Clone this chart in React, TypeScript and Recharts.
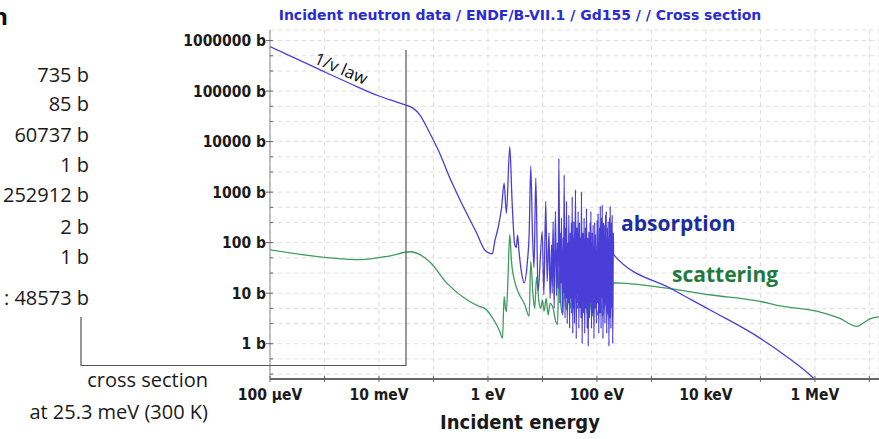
import { CartesianGrid, Line, LineChart, XAxis, YAxis } from "recharts";

// Gd155 cross sections, [energy in eV, cross section in b]
const absorptionThermal: [number, number][] = [
  [1e-4, 7.6e5], [3e-4, 4.4e5], [1e-3, 2.4e5], [3e-3, 1.4e5], [0.01, 8.0e4],
  [0.02, 6.2e4], [0.031, 5.3e4], [0.042, 4.6e4], [0.056, 3.4e4], [0.085, 1.5e4],
  [0.13, 5.9e3], [0.2, 1.9e3], [0.35, 525], [0.62, 155], [0.87, 72], [1.05, 62], [1.2, 60],
];

const absorptionResolved: [number, number][] = [
  [1.33, 105], [1.53, 195], [1.77, 480], [1.98, 1510], [2.18, 380], [2.51, 7940], [2.77, 660],
  [3.1, 91], [3.3, 80], [3.5, 140], [3.7, 70], [4.1, 27], [4.6, 16], [5.3, 43], [5.7, 145],
  [6.1, 3240], [6.56, 145], [7.0, 32], [7.55, 1900], [8.3, 11], [9.9, 165], [10.6, 9.3],
  [11.5, 660], [12.2, 17],
  [13.2, 158], [13.8, 7.9], [14.7, 91], [15.1, 10], [15.7, 263], [16.4, 5.0], [17.3, 417],
  [18.2, 8.9], [18.8, 100], [19.4, 12.6], [20.0, 4680], [20.9, 6.3], [21.6, 158], [22.0, 15.8],
  [22.3, 309], [23.2, 4.0], [24.0, 126], [24.5, 10], [25.0, 2190], [26.0, 3.2], [26.8, 200],
  [27.2, 7.9], [27.6, 661], [28.5, 2.5], [29.4, 100], [29.9, 6.3], [30.5, 355], [31.5, 2.0],
  [32.4, 158], [33.1, 7.9], [33.9, 251], [34.5, 4.0], [35.1, 813], [36.0, 1.6], [36.7, 126],
  [37.2, 5.0], [37.6, 263], [38.7, 2.5], [40.4, 1120], [41.7, 1.26], [42.9, 200], [43.7, 6.3],
  [45.2, 417], [46.6, 2.0], [47.9, 251], [49.0, 5.0], [50.1, 126], [51.0, 3.2], [52.0, 1020],
  [53.5, 1.0], [55.0, 158], [56.2, 4.0], [58.2, 309], [59.6, 1.6], [61.7, 200], [62.8, 5.0],
  [64.3, 479], [66.1, 2.0], [67.9, 126], [69.2, 0.89], [71.0, 166], [72.8, 3.2], [75.0, 251],
  [75.9, 6.3], [77.3, 417], [79.4, 2.0], [82.2, 158], [83.6, 4.0], [85.1, 224], [88.1, 1.26],
  [91.2, 251], [92.5, 5.0], [94.0, 145], [97.7, 2.5], [101, 282], [103, 6.3], [105, 380],
  [108, 1.6], [112, 200], [113, 4.0], [115, 525], [119, 2.0], [122, 316], [123, 7.9],
  [125, 562], [129, 1.26], [132, 251], [134, 5.0], [136, 224], [140, 2.5], [144, 355],
  [146, 6.3], [148, 417], [151, 1.6], [157, 200], [158, 4.0], [161, 263], [166, 0.89],
  [171, 316], [173, 3.2], [175, 525], [180, 2.0], [185, 251], [188, 5.0], [190, 355],
  [195, 1.0], [200, 158],
];

const absorptionFast: [number, number][] = [
  [202, 58], [2.5e3, 11.7], [1.17e4, 4.7], [9.8e4, 1.29], [3e5, 0.56], [9.3e5, 0.21], [3e6, 0.05],
];

const scatteringThermal: [number, number][] = [
  [1e-4, 72], [1.26e-3, 50], [4.5e-3, 46], [0.016, 55], [0.037, 66], [0.085, 42], [0.174, 16],
  [0.41, 7.4], [0.71, 5.4], [0.87, 5.0], [1.33, 2.75], [1.65, 1.74], [1.85, 1.29],
];

const scatteringResolved: [number, number][] = [
  [1.98, 8.5], [2.1, 5.0], [2.18, 4.3], [2.34, 23], [2.51, 145], [2.7, 43], [3.1, 17],
  [3.57, 10.7], [4.74, 5.9], [5.7, 3.5], [6.1, 43], [6.7, 9.3], [7.2, 5.0], [7.8, 21],
  [8.6, 6.9], [9.3, 5.0], [10, 7.4], [10.7, 4.4], [11.7, 7.9], [12.7, 3.7], [13.8, 6.3],
  [15.7, 5.0], [17.3, 2.9], [18.9, 2.4], [20, 27], [21.7, 5.9], [23.7, 3.7], [25, 12.6],
  [27.6, 4.7], [29.6, 9.3], [32.2, 5.0], [35.1, 10.7], [38.2, 6.3], [40.4, 13.5], [44, 5.0],
  [48.5, 9.3], [52, 11.7], [56.6, 4.4], [61.7, 7.9], [67, 3.7], [74, 6.9], [81.7, 3.5],
  [91.4, 6.9], [102, 3.7], [115, 7.4], [128, 3.5], [144, 6.9], [161, 3.7], [180, 7.9], [200, 16],
];

const scatteringFast: [number, number][] = [
  [1.9e3, 12.6], [1.17e4, 9.3], [9.8e4, 6.9], [2.3e5, 5.6], [1.07e6, 4.4], [2.8e6, 3.2],
  [5.9e6, 2.2], [7.8e6, 2.6], [1.02e7, 3.1], [1.5e7, 3.4],
];

const xTicks = [1e-4, 1e-3, 1e-2, 1e-1, 1, 10, 100, 1e3, 1e4, 1e5, 1e6, 1e7];
const xTickLabels = ["100 µeV", "", "10 meV", "", "1 eV", "", "100 eV", "", "10 keV", "", "1 MeV", ""];

const yMajor = [1, 10, 100, 1000, 10000, 100000, 1000000];
const yMinor = [0.25, 0.5, 2.5, 5, 25, 50, 250, 500, 2500, 5000, 25000, 50000, 250000, 500000];

// thermal values listed to the left of the plot (cut off in the original)
const thermalValues = ["735 b", "85 b", "60737 b", "1 b", "252912 b", "2 b", "1 b", ": 48573 b"];

const PLOT_LEFT = 270;
const AXIS_Y = 379;
const LEFT_ROWS = [75, 104, 135, 165, 195, 227, 257, 298];

const toPoints = (pairs: [number, number][]) => pairs.map(([e, s]) => ({ e, s }));
const absorption = toPoints([...absorptionThermal, ...absorptionResolved, ...absorptionFast]);
const scattering = toPoints([...scatteringThermal, ...scatteringResolved, ...scatteringFast]);
const yTicks = [...yMajor, ...yMinor].sort((a, b) => a - b);

const tickFont = "'DejaVu Sans Condensed', 'DejaVu Sans', sans-serif";
const noteFont = "'Open Sans', sans-serif";

function YTick(props: any) {
  const { y, payload } = props;
  const major = yMajor.includes(payload.value);
  return (
    <g>
      <line x1={major ? PLOT_LEFT - 4 : PLOT_LEFT} x2={PLOT_LEFT + 3} y1={y} y2={y} stroke="#666" />
      {major && (
        <text x={PLOT_LEFT - 4} y={y + 5.5} textAnchor="end" fontFamily={tickFont} fontWeight="bold" fontSize={15.5} fill="#1a1a1a">
          {payload.value} b
        </text>
      )}
    </g>
  );
}

function XTick(props: any) {
  const { x, payload } = props;
  const label = xTickLabels[xTicks.indexOf(payload.value)];
  return (
    <g>
      <line x1={x} x2={x} y1={AXIS_Y - 3} y2={AXIS_Y + 3} stroke="#666" />
      {label && (
        <text x={x} y={AXIS_Y + 21} textAnchor="middle" fontFamily={tickFont} fontWeight="bold" fontSize={15.5} fill="#1a1a1a">
          {label}
        </text>
      )}
    </g>
  );
}

export default function App() {
  return (
    <div style={{ position: "absolute", left: 0, top: 0, width: 879, height: 439, background: "#fff", overflow: "hidden" }}>
      <LineChart width={879} height={439} margin={{ top: 30, right: 0, bottom: 0, left: 0 }}>
        <CartesianGrid strokeDasharray="4 4" stroke="#dedede" />
        <XAxis
          type="number"
          dataKey="e"
          scale="log"
          domain={[1e-4, 1.5e7]}
          allowDataOverflow
          ticks={xTicks}
          interval={0}
          tick={XTick}
          tickLine={false}
          axisLine={{ stroke: "#666", strokeWidth: 2 }}
          height={60}
        />
        <YAxis
          type="number"
          scale="log"
          domain={[0.2, 1.62e6]}
          allowDataOverflow
          ticks={yTicks}
          interval={0}
          tick={YTick}
          tickLine={false}
          axisLine={{ stroke: "#888" }}
          width={PLOT_LEFT}
        />
        <Line data={scattering} dataKey="s" type="monotone" stroke="#3d9b5e" strokeWidth={1.3} dot={false} isAnimationActive={false} />
        <Line data={absorption} dataKey="s" type="monotone" stroke="#4a3ed8" strokeWidth={1.3} dot={false} isAnimationActive={false} />
      </LineChart>

      <svg width={879} height={439} style={{ position: "absolute", left: 0, top: 0, pointerEvents: "none" }}>
        <text x={520} y={19.5} textAnchor="middle" fontFamily="'DejaVu Sans', sans-serif" fontWeight="bold" fontSize={14} fill="#2b2bd4">
          Incident neutron data / ENDF/B-VII.1 / Gd155 / / Cross section
        </text>
        <text x={520} y={429} textAnchor="middle" fontFamily={tickFont} fontWeight="bold" fontSize={20} fill="#1a1a1a">
          Incident energy
        </text>

        <text x={8} y={25} textAnchor="end" fontFamily={noteFont} fontWeight="bold" fontSize={24} fill="#111">
          n
        </text>
        {thermalValues.map((v, i) => (
          <text key={i} x={89} y={LEFT_ROWS[i] + 7} textAnchor="end" fontFamily={noteFont} fontSize={20} fill="#1a1a1a">
            {v}
          </text>
        ))}
        <path d="M81 317 V365.5 H406 V50" fill="none" stroke="#555" strokeWidth={1.2} />
        <text x={208} y={387} textAnchor="end" fontFamily={noteFont} fontSize={20} fill="#1a1a1a">
          cross section
        </text>
        <text x={208} y={419} textAnchor="end" fontFamily={noteFont} fontSize={20} fill="#1a1a1a">
          at 25.3 meV (300 K)
        </text>

        <text x={313} y={63} transform="rotate(23 313 63)" fontFamily={noteFont} fontSize={17} fill="#111">
          1/v law
        </text>
        <text x={621} y={231} fontFamily={noteFont} fontWeight="bold" fontSize={21} fill="#1a2d9e">
          absorption
        </text>
        <text x={672} y={282} fontFamily={noteFont} fontWeight="bold" fontSize={21} fill="#1f7a3e">
          scattering
        </text>
      </svg>
    </div>
  );
}
